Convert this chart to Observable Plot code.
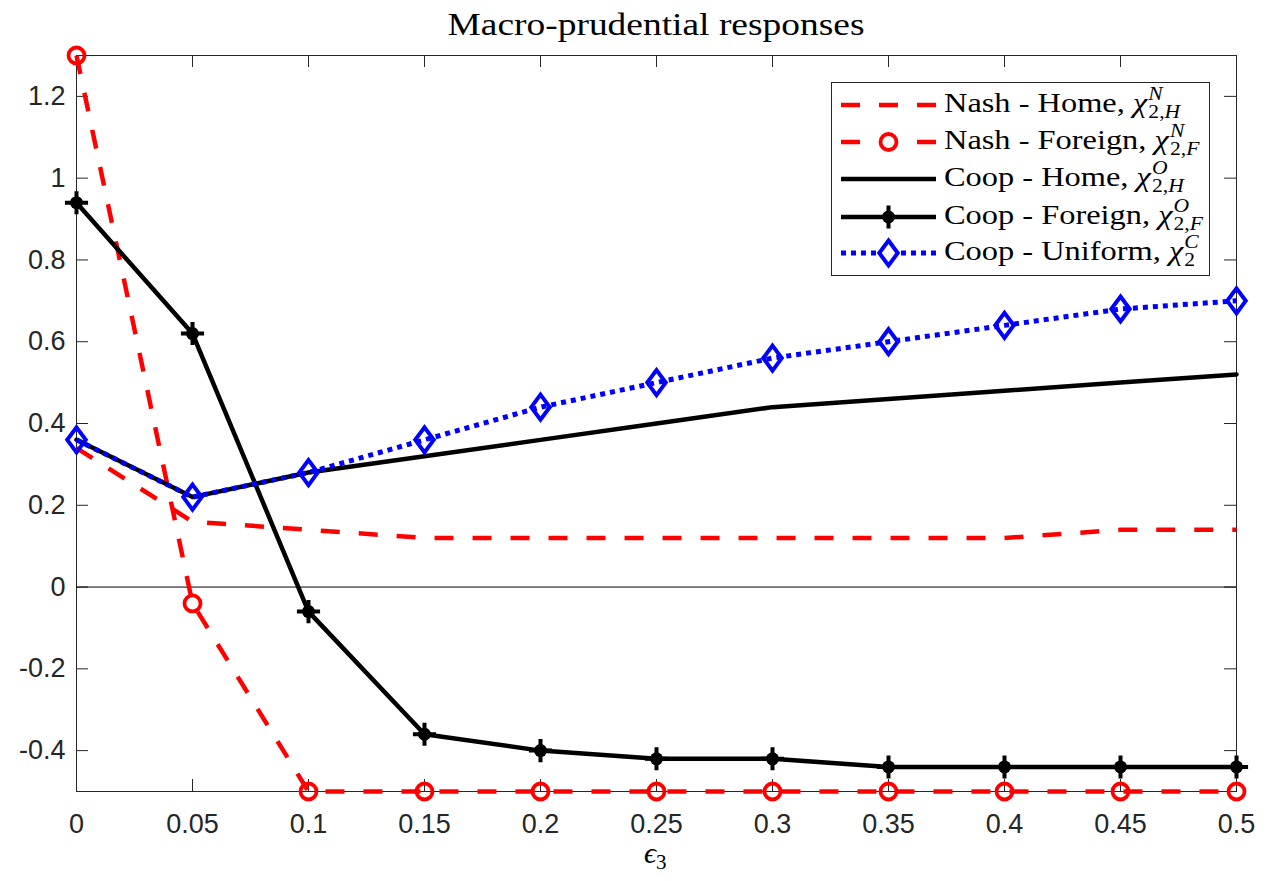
<!DOCTYPE html>
<html><head><meta charset="utf-8">
<script src="https://cdn.jsdelivr.net/npm/d3@7"></script>
<script src="https://cdn.jsdelivr.net/npm/@observablehq/plot@0.6"></script>
<style>body{margin:0;background:#fff}</style>
</head><body><div id="chart"></div>
<script>
// ---- data ----
const eps = [0, 0.05, 0.1, 0.15, 0.2, 0.25, 0.3, 0.35, 0.4, 0.45, 0.5];
const nashHome    = [0.34, 0.16, 0.14, 0.12, 0.12, 0.12, 0.12, 0.12, 0.12, 0.14, 0.14];
const nashForeign = [1.30, -0.04, -0.50, -0.50, -0.50, -0.50, -0.50, -0.50, -0.50, -0.50, -0.50];
const coopHome    = [0.36, 0.22, 0.28, 0.32, 0.36, 0.40, 0.44, 0.46, 0.48, 0.50, 0.52];
const coopForeign = [0.94, 0.62, -0.06, -0.36, -0.40, -0.42, -0.42, -0.44, -0.44, -0.44, -0.44];
const coopUniform = [0.36, 0.22, 0.28, 0.36, 0.44, 0.50, 0.56, 0.60, 0.64, 0.68, 0.70];
const xTicks = [0, 0.05, 0.1, 0.15, 0.2, 0.25, 0.3, 0.35, 0.4, 0.45, 0.5];
const yTicks = [-0.4, -0.2, 0, 0.2, 0.4, 0.6, 0.8, 1, 1.2];
const titleText = "Macro-prudential responses";
const legendLabels = ["Nash - Home, ", "Nash - Foreign, ", "Coop - Home, ", "Coop - Foreign, ", "Coop - Uniform, "];
const legendSup = ["N", "N", "O", "O", "C"];
const legendSub = [["2,", "H"], ["2,", "F"], ["2,", "H"], ["2,", "F"], ["2", ""]];

const table = eps.map((x, i) => ({x, nh: nashHome[i], nf: nashForeign[i], ch: coopHome[i], cf: coopForeign[i], cu: coopUniform[i]}));

// ---- layout ----
const W = 1267, H = 881, mL = 76, mR = 31, mT = 55, mB = 90;
const innerW = W - mL - mR, innerH = H - mT - mB, tk = 12;
const RED = "#ff0000", BLUE = "#0000ff", AX = "#262626";
const LW = 4.5;
const DASH = "19,19", DOT = "5,5";
const fmt = d => String(+(+d).toFixed(2));

const tallDiamond = {draw(ctx, size) {
  const r = Math.sqrt(size / Math.PI), w = r * 0.74;
  ctx.moveTo(0, -r); ctx.lineTo(w, 0); ctx.lineTo(0, r); ctx.lineTo(-w, 0); ctx.closePath();
}};

const plot = Plot.plot({
  width: W, height: H, marginLeft: mL, marginRight: mR, marginTop: mT, marginBottom: mB,
  x: {domain: [0, 0.5]},
  y: {domain: [-0.5, 1.3]},
  style: {fontFamily: "'Liberation Sans', Arial, sans-serif", fontSize: "27px", color: AX, background: "#fff"},
  marks: [
    Plot.frame({stroke: AX, strokeWidth: 1}),
    Plot.tickX(xTicks, {x: d => d, insetTop: innerH - tk, stroke: AX}),
    Plot.tickX(xTicks, {x: d => d, insetBottom: innerH - tk, stroke: AX}),
    Plot.tickY(yTicks, {y: d => d, insetRight: innerW - tk, stroke: AX}),
    Plot.tickY(yTicks, {y: d => d, insetLeft: innerW - tk, stroke: AX}),
    Plot.axisX(xTicks, {tickSize: 0, tickPadding: 22, tickFormat: fmt, label: null}),
    Plot.axisY(yTicks, {tickSize: 0, tickPadding: 11, tickFormat: fmt, label: null}),
    Plot.ruleY([0], {stroke: "#000", strokeWidth: 1}),
    Plot.line(table, {x: "x", y: "nh", stroke: RED, strokeWidth: LW, strokeDasharray: DASH, strokeLinecap: "butt", strokeLinejoin: "miter"}),
    Plot.line(table, {x: "x", y: "nf", stroke: RED, strokeWidth: LW, strokeDasharray: DASH, strokeLinecap: "butt", strokeLinejoin: "miter"}),
    Plot.dot(table, {x: "x", y: "nf", r: 8, stroke: RED, strokeWidth: 3.8, fill: "none"}),
    Plot.line(table, {x: "x", y: "ch", stroke: "#000", strokeWidth: LW}),
    Plot.line(table, {x: "x", y: "cf", stroke: "#000", strokeWidth: LW}),
    Plot.dot(table, {x: "x", y: "cf", r: 6.5, fill: "#000"}),
    Plot.dot(table, {x: "x", y: "cf", r: 7.5, symbol: "plus", stroke: "#000", strokeWidth: 4}),
    Plot.line(table, {x: "x", y: "cu", stroke: BLUE, strokeWidth: 5, strokeDasharray: DOT, strokeLinecap: "butt", strokeLinejoin: "miter"}),
    Plot.dot(table, {x: "x", y: "cu", r: 12.5, symbol: tallDiamond, stroke: BLUE, strokeWidth: 4, fill: "none"})
  ]
});
document.getElementById("chart").appendChild(plot);

const svg = d3.select(plot);
const SERIF = "'Liberation Serif', 'Times New Roman', serif";

// title
svg.append("text").attr("x", mL + innerW / 2).attr("y", 35).attr("text-anchor", "middle")
  .attr("font-family", SERIF).attr("font-size", 31).attr("fill", "#000")
  .attr("textLength", 417).attr("lengthAdjust", "spacingAndGlyphs").text(titleText);

// x label: epsilon_3
const xl = svg.append("text").attr("x", mL + innerW / 2 - 12).attr("y", 863).attr("text-anchor", "start")
  .attr("font-family", SERIF).attr("font-size", 30).attr("fill", "#000");
xl.append("tspan").attr("font-style", "italic").text("\u03F5");
xl.append("tspan").attr("font-size", 21).attr("dy", 6).text("3");

// legend
const lg = svg.append("g").attr("text-anchor", "start");
lg.append("rect").attr("x", 831.5).attr("y", 82.5).attr("width", 378).attr("height", 193)
  .attr("fill", "#fff").attr("stroke", AX).attr("stroke-width", 1);
const rowY = [105, 142, 179, 217, 253];
const styles = [
  {stroke: RED, dash: DASH, width: LW},
  {stroke: RED, dash: DASH, width: LW, marker: "circle"},
  {stroke: "#000", dash: null, width: LW},
  {stroke: "#000", dash: null, width: LW, marker: "plus"},
  {stroke: BLUE, dash: DOT, width: 5, marker: "diamond"}
];
legendLabels.forEach((lab, i) => {
  const y = rowY[i], s = styles[i], cx = 888.5;
  const ln = lg.append("line").attr("x1", 841).attr("x2", 936).attr("y1", y).attr("y2", y)
    .attr("stroke", s.stroke).attr("stroke-width", s.width).attr("stroke-linecap", "butt");
  if (s.dash) ln.attr("stroke-dasharray", s.dash);
  if (s.marker === "circle") {
    lg.append("circle").attr("cx", cx).attr("cy", y).attr("r", 8).attr("fill", "#fff").attr("stroke", RED).attr("stroke-width", 3.8);
  } else if (s.marker === "plus") {
    lg.append("circle").attr("cx", cx).attr("cy", y).attr("r", 6.5).attr("fill", "#000");
    lg.append("path").attr("transform", `translate(${cx},${y})`).attr("d", d3.symbol(d3.symbolPlus, Math.PI * 7.5 * 7.5)())
      .attr("fill", "none").attr("stroke", "#000").attr("stroke-width", 4);
  } else if (s.marker === "diamond") {
    lg.append("path").attr("transform", `translate(${cx},${y})`).attr("d", d3.symbol(tallDiamond, Math.PI * 12.5 * 12.5)())
      .attr("fill", "#fff").attr("stroke", BLUE).attr("stroke-width", 4);
  }
  const g = lg.append("g").attr("transform", `translate(944,${y + 7}) scale(1.2,1)`);
  const t = g.append("text").attr("x", 0).attr("y", 0).attr("text-anchor", "start")
    .attr("font-family", SERIF).attr("font-size", 27).attr("fill", "#000");
  t.append("tspan").text(lab);
  t.append("tspan").attr("font-style", "italic").text("\u03C7");
  const w = t.node().getComputedTextLength();
  g.append("text").attr("x", w + 1).attr("y", -12).attr("text-anchor", "start").attr("font-family", SERIF).attr("font-size", 18)
    .attr("font-style", "italic").attr("fill", "#000").text(legendSup[i]);
  const sb = g.append("text").attr("x", w + 1).attr("y", 6).attr("text-anchor", "start").attr("font-family", SERIF).attr("font-size", 18).attr("fill", "#000");
  sb.append("tspan").text(legendSub[i][0]);
  if (legendSub[i][1]) sb.append("tspan").attr("font-style", "italic").text(legendSub[i][1]);
});
</script>
</body></html>
